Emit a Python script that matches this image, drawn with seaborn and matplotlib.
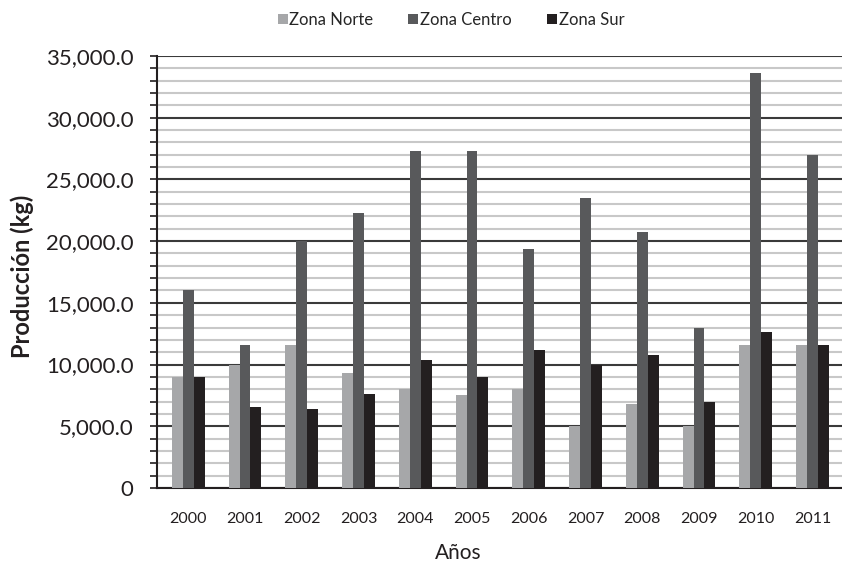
import pandas as pd
import matplotlib.pyplot as plt
import seaborn as sns
from matplotlib.ticker import MultipleLocator, FuncFormatter

years = ['2000', '2001', '2002', '2003', '2004', '2005',
         '2006', '2007', '2008', '2009', '2010', '2011']
norte = [9000, 10000, 11600, 9300, 8000, 7500, 8000, 5000, 6800, 5000, 11600, 11600]
centro = [16000, 11600, 20000, 22300, 27300, 27300, 19400, 23500, 20700, 13000, 33600, 27000]
sur = [9000, 6600, 6400, 7600, 10350, 9000, 11150, 10000, 10750, 7000, 12600, 11600]
zonas = ['Zona Norte', 'Zona Centro', 'Zona Sur']

df = pd.DataFrame({'Año': years, 'Zona Norte': norte, 'Zona Centro': centro, 'Zona Sur': sur})
df = df.melt(id_vars='Año', var_name='Zona', value_name='Producción')

sns.set_style('white')
plt.rcParams['font.family'] = ['Lato', 'DejaVu Sans']

fig = plt.figure(figsize=(8.42, 5.62), dpi=100)
ax = fig.add_axes([0.1865, 0.1317, 0.8135, 0.7687])

sns.barplot(data=df, x='Año', y='Producción', hue='Zona', hue_order=zonas,
            palette=['#a6a7a9', '#58595b', '#231f20'], saturation=1,
            width=0.58, linewidth=0, ax=ax, zorder=3)

ax.set_ylim(0, 35000)
ax.set_xlim(-0.55, 11.52)
ax.yaxis.set_major_locator(MultipleLocator(5000))
ax.yaxis.set_minor_locator(MultipleLocator(1000))
ax.yaxis.set_major_formatter(FuncFormatter(lambda v, p: '0' if v == 0 else f'{v:,.1f}'))
ax.grid(axis='y', which='major', color='#3a3a3a', lw=1.5, zorder=0)
ax.grid(axis='y', which='minor', color='#c8c8c8', lw=1.5, zorder=0)
ax.set_axisbelow(True)

for s in ['top', 'right']:
    ax.spines[s].set_visible(False)
for s in ['left', 'bottom']:
    ax.spines[s].set_color('#231f20')
    ax.spines[s].set_linewidth(1.5)

ax.tick_params(axis='y', which='both', left=True, length=5, width=1.2, pad=12,
               color='#231f20', labelsize=16, labelcolor='#231f20')
ax.tick_params(axis='x', bottom=False, labelsize=11.5, pad=14, labelcolor='#231f20')

ax.set_xlabel('Años', fontsize=15, color='#231f20')
ax.set_ylabel('Producción (kg)', fontsize=17, fontweight='bold', color='#231f20')
ax.xaxis.set_label_coords(0.44, -0.128)
ax.yaxis.set_label_coords(-0.18, 0.49)

ax.legend(loc='lower center', bbox_to_anchor=(0.429, 1.03), ncol=3, frameon=False,
          fontsize=12, handlelength=0.6, handleheight=0.6, handletextpad=0.1,
          columnspacing=2.1)

fig.savefig('out.png', dpi=100)
